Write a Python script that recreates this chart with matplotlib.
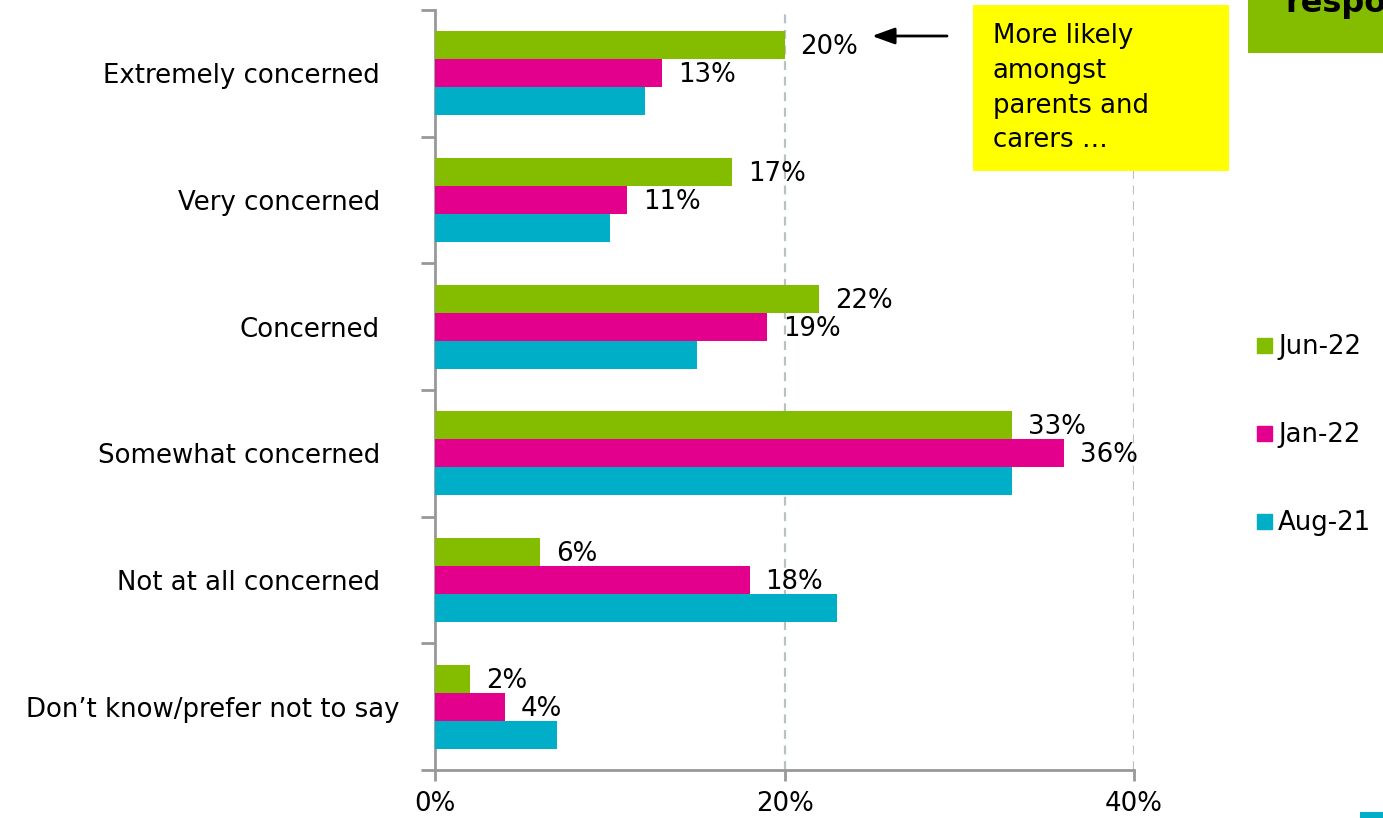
import numpy as np
import matplotlib.pyplot as plt
from matplotlib.patches import Rectangle
from matplotlib.lines import Line2D
from matplotlib.transforms import ScaledTranslation

# Survey answers, top to bottom
categories = ["Extremely concerned", "Very concerned", "Concerned",
              "Somewhat concerned", "Not at all concerned",
              "Don\u2019t know/prefer not to say"]

# Share of respondents (%) per wave
waves = ["Jun-22", "Jan-22", "Aug-21"]
jun22 = [20, 17, 22, 33, 6, 2]
jan22 = [13, 11, 19, 36, 18, 4]
aug21 = [12, 10, 15, 33, 23, 7]
labelled = [True, True, False]   # only the two latest waves carry value labels

xticks = [0, 20, 40]
xticklabels = ["0%", "20%", "40%"]

note_text = "More likely\namongst\nparents and\ncarers \u2026"

colors = ["#84BD00", "#E2008C", "#00AEC7"]
FS = 18.7
W, H = 1383, 818


def main():
    fig = plt.figure(figsize=(W / 100, H / 100), dpi=100)
    ax = fig.add_axes([435 / W, 48 / H, 699 / W, 760 / H])

    y = np.arange(len(categories))
    bar_h = 0.221
    series = [jun22, jan22, aug21]
    for k, (vals, col) in enumerate(zip(series, colors)):
        ypos = y + (k - 1) * bar_h
        ax.barh(ypos, vals, height=bar_h, color=col, label=waves[k], zorder=3)
        if labelled[k]:
            for v, yy in zip(vals, ypos):
                ax.annotate(f"{v}%", xy=(v, yy), xytext=(16, -2),
                            textcoords="offset pixels", ha="left", va="center",
                            fontsize=FS, color="black", zorder=4)

    ax.set_xlim(0, 40)
    ax.set_ylim(len(categories) - 0.5, -0.5)

    # dashed guides at the 20% steps
    for gx in xticks[1:]:
        ax.axvline(gx, color="#B8C2C2", lw=1.6, ls=(0, (4, 3)), zorder=1)

    # category boundaries get tick marks, centres get the labels
    ax.set_yticks(np.arange(len(categories) + 1) - 0.5)
    ax.set_yticklabels([])
    ax.set_yticks(y, minor=True)
    ax.set_yticklabels(categories, minor=True, fontsize=FS)
    ax.tick_params(axis="y", which="major", length=10, width=2, color="#989898")
    ax.tick_params(axis="y", which="minor", length=0, pad=36 * 0.72)
    shift = ScaledTranslation(-19 / 100, 0, fig.dpi_scale_trans)
    for lab in ax.get_yticklabels(minor=True)[:-1]:
        lab.set_transform(lab.get_transform() + shift)

    ax.set_xticks(xticks)
    ax.set_xticklabels(xticklabels, fontsize=FS)
    ax.tick_params(axis="x", length=8, width=2, color="#989898", pad=7)

    for side in ["top", "right"]:
        ax.spines[side].set_visible(False)
    for side in ["left", "bottom"]:
        ax.spines[side].set_color("#989898")
        ax.spines[side].set_linewidth(2)

    # legend on the right
    handles = [Line2D([], [], ls="none", marker="s", markersize=15 * 0.72,
                      markerfacecolor=c, markeredgecolor=c) for c in colors]
    fig.legend(handles, waves, loc="center left",
               bbox_to_anchor=(1251 / W, 1 - 435 / H), frameon=False,
               fontsize=FS, handlelength=1.0, handletextpad=0.05,
               labelspacing=2.4, borderpad=0, borderaxespad=0)

    # callout box with arrow
    fig.patches.append(Rectangle((973 / W, 1 - 171 / H), 256 / W, 166 / H,
                                 transform=fig.transFigure, facecolor="#FFFF00",
                                 edgecolor="none", zorder=5))
    fig.text(993 / W, 1 - 23 / H, note_text, fontsize=FS, ha="left", va="top",
             linespacing=1.44, zorder=6)
    ax.annotate("", xy=(872 / W, 1 - 36 / H), xytext=(947 / W, 1 - 36 / H),
                xycoords="figure fraction", textcoords="figure fraction",
                arrowprops=dict(arrowstyle="-|>,head_length=0.55,head_width=0.2",
                                color="black", lw=2, mutation_scale=25,
                                shrinkA=0, shrinkB=0))

    # header tab at top right
    fig.patches.append(Rectangle((1248 / W, 1 - 53 / H), 200 / W, 60 / H,
                                 transform=fig.transFigure, facecolor="#84BD00",
                                 edgecolor="none", zorder=5))
    fig.text(1285 / W, 1 - 12 / H, "respondents", fontsize=23, fontweight="bold",
             ha="left", va="baseline", zorder=6)

    # corner mark
    fig.patches.append(Rectangle((1360 / W, 0), 40 / W, 6 / H,
                                 transform=fig.transFigure, facecolor="#00AEC7",
                                 edgecolor="none", zorder=5))

    fig.savefig("out.png", dpi=100)


if __name__ == "__main__":
    main()
